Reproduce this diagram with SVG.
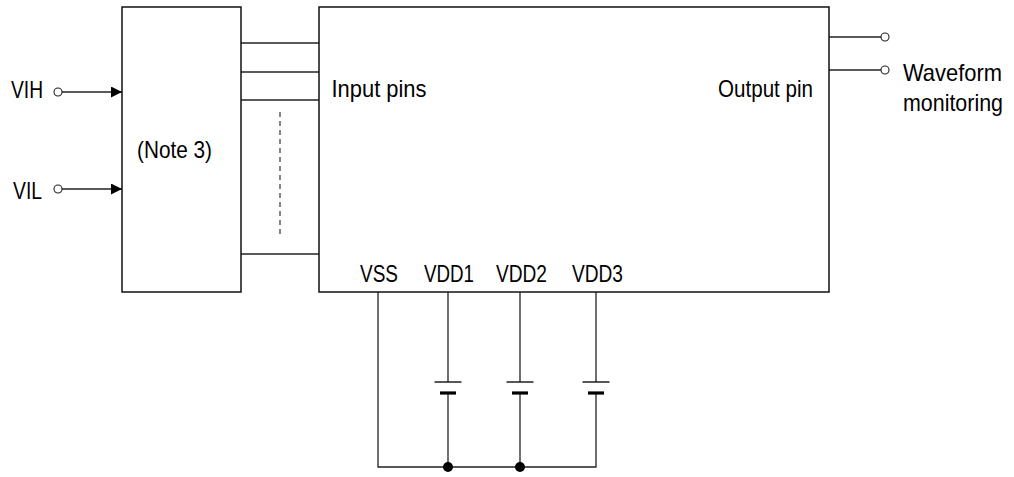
<svg xmlns="http://www.w3.org/2000/svg" width="1014" height="477" viewBox="0 0 1014 477">
<defs>
<style>
.box{fill:#fff;stroke:#111;stroke-width:1.5}
.w{fill:none;stroke:#222;stroke-width:1.3}
.dash{fill:none;stroke:#444;stroke-width:1.3;stroke-dasharray:5 4}
.term{fill:#fff;stroke:#222;stroke-width:1.1}
.dot{fill:#000}
.plate{stroke:#111;stroke-width:1.4}
.plate2{stroke:#000;stroke-width:3.2}
text{font-family:"Liberation Sans",Arial,sans-serif;font-size:24px;fill:#000}
</style>
<marker id="arr" viewBox="0 0 10 10" refX="10" refY="5" markerWidth="11" markerHeight="11" markerUnits="userSpaceOnUse" orient="auto" preserveAspectRatio="none">
<path d="M0,0 L10,5 L0,10 Z" fill="#000"/>
</marker>
</defs>
<rect width="1014" height="477" fill="#fff"/>

<g id="connectors">
<line class="w" x1="62" y1="92" x2="122" y2="92" marker-end="url(#arr)"/>
<line class="w" x1="62" y1="189" x2="122" y2="189" marker-end="url(#arr)"/>
<line class="w" x1="241" y1="43" x2="319" y2="43"/>
<line class="w" x1="241" y1="72" x2="319" y2="72"/>
<line class="w" x1="241" y1="100" x2="319" y2="100"/>
<line class="w" x1="241" y1="254" x2="319" y2="254"/>
<line class="dash" x1="280" y1="112" x2="280" y2="234"/>
<line class="w" x1="829" y1="37" x2="881" y2="37"/>
<line class="w" x1="829" y1="70" x2="881" y2="70"/>
<polyline class="w" points="378,292 378,467 596,467 596,393"/>
<line class="w" x1="596" y1="292" x2="596" y2="382"/>
<line class="w" x1="448" y1="292" x2="448" y2="382"/>
<line class="w" x1="448" y1="393" x2="448" y2="467"/>
<line class="w" x1="520" y1="292" x2="520" y2="382"/>
<line class="w" x1="520" y1="393" x2="520" y2="467"/>
<line class="plate" x1="434.5" y1="382" x2="461.5" y2="382"/>
<line class="plate2" x1="440" y1="393" x2="456" y2="393"/>
<line class="plate" x1="506.5" y1="382" x2="533.5" y2="382"/>
<line class="plate2" x1="512" y1="393" x2="528" y2="393"/>
<line class="plate" x1="582.5" y1="382" x2="609.5" y2="382"/>
<line class="plate2" x1="588" y1="393" x2="604" y2="393"/>
<circle class="dot" cx="448" cy="467" r="5"/>
<circle class="dot" cx="520" cy="467" r="5"/>
</g>

<g id="vih">
<circle class="term" cx="58" cy="92" r="4"/>
<text x="11" y="98" textLength="32" lengthAdjust="spacingAndGlyphs">VIH</text>
</g>
<g id="vil">
<circle class="term" cx="58" cy="189" r="4"/>
<text x="13" y="199" textLength="29" lengthAdjust="spacingAndGlyphs">VIL</text>
</g>

<g id="note3">
<rect class="box" x="122" y="7" width="119" height="285"/>
<text x="137" y="158" textLength="75" lengthAdjust="spacingAndGlyphs">(Note 3)</text>
</g>

<g id="device">
<rect class="box" x="319" y="7" width="510" height="285"/>
<text x="331.5" y="97" textLength="95" lengthAdjust="spacingAndGlyphs">Input pins</text>
<text x="718" y="97" textLength="95" lengthAdjust="spacingAndGlyphs">Output pin</text>
<text x="360" y="282" textLength="38" lengthAdjust="spacingAndGlyphs">VSS</text>
<text x="424" y="282" textLength="50" lengthAdjust="spacingAndGlyphs">VDD1</text>
<text x="496" y="282" textLength="51" lengthAdjust="spacingAndGlyphs">VDD2</text>
<text x="572" y="282" textLength="51" lengthAdjust="spacingAndGlyphs">VDD3</text>
</g>

<g id="out1">
<circle class="term" cx="885" cy="37" r="4"/>
</g>
<g id="out2">
<circle class="term" cx="885" cy="70" r="4"/>
<text x="903" y="81" textLength="99" lengthAdjust="spacingAndGlyphs">Waveform</text>
<text x="903" y="111" textLength="100" lengthAdjust="spacingAndGlyphs">monitoring</text>
</g>
</svg>
